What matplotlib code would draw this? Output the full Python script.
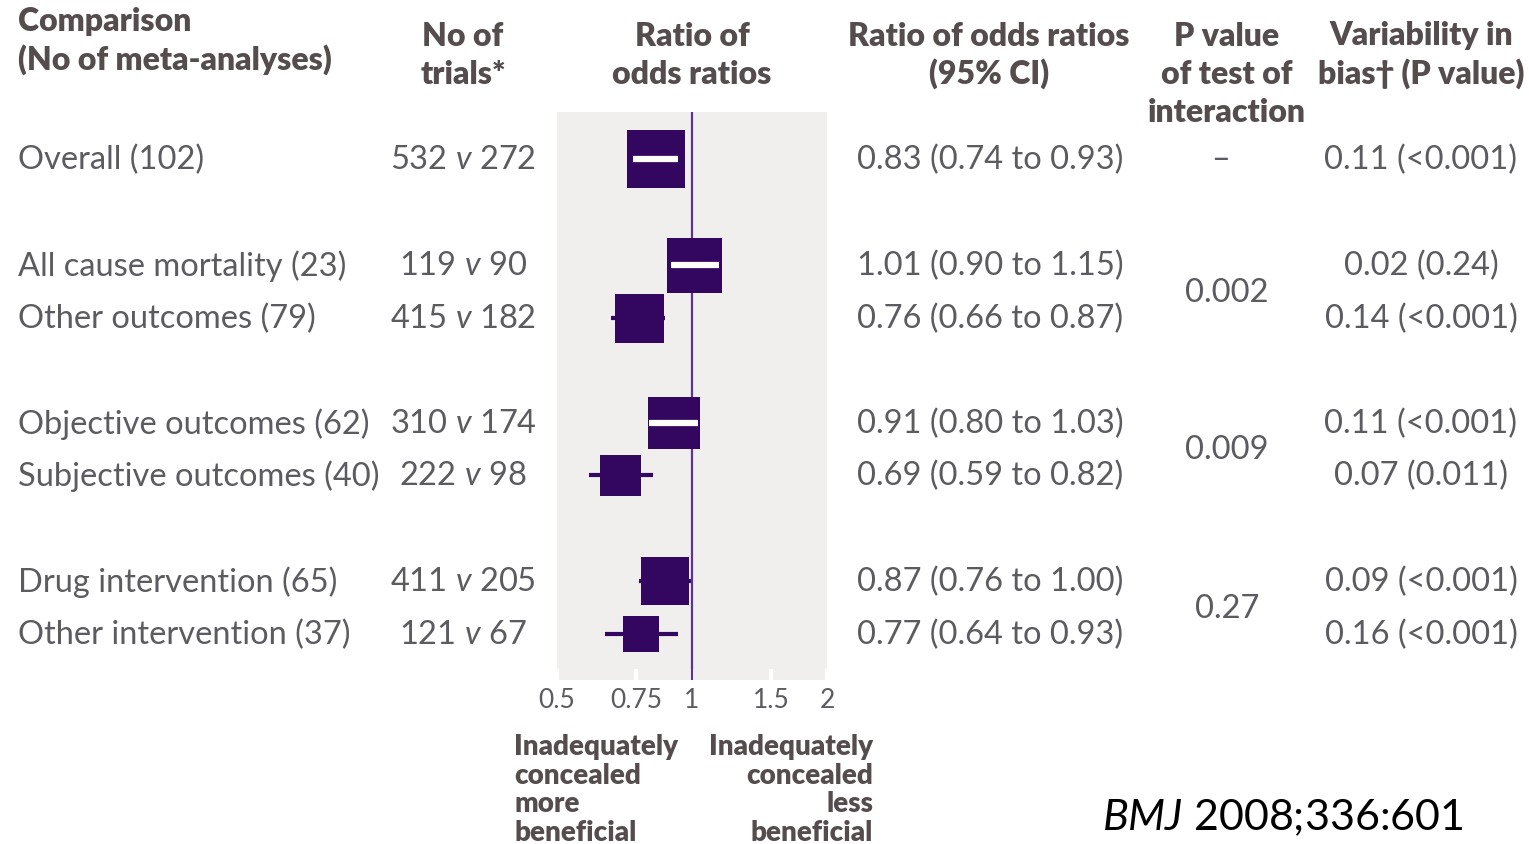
import numpy as np
import matplotlib
matplotlib.use("Agg")
import matplotlib.pyplot as plt

# ---------------- data ----------------
labels = ["Overall (102)", "All cause mortality (23)", "Other outcomes (79)",
          "Objective outcomes (62)", "Subjective outcomes (40)",
          "Drug intervention (65)", "Other intervention (37)"]
trials_adequate_not = [532, 119, 415, 310, 222, 411, 121]
trials_adequate = [272, 90, 182, 174, 98, 205, 67]
ror = [0.83, 1.01, 0.76, 0.91, 0.69, 0.87, 0.77]
ci_lo = [0.74, 0.90, 0.66, 0.80, 0.59, 0.76, 0.64]
ci_hi = [0.93, 1.15, 0.87, 1.03, 0.82, 1.00, 0.93]
box_weight = [58, 55, 49, 53, 41, 48, 36]   # box side (relative weight)
variability = ["0.11 (<0.001)", "0.02 (0.24)", "0.14 (<0.001)", "0.11 (<0.001)",
               "0.07 (0.011)", "0.09 (<0.001)", "0.16 (<0.001)"]
p_interaction = ["–", "0.002", "0.009", "0.27"]
xticks = [0.5, 0.75, 1, 1.5, 2]
xtick_labels = ["0.5", "0.75", "1", "1.5", "2"]

# ---------------- layout / style ----------------
W, H = 1529, 844
row_y = [160, 266, 319, 424, 476, 582, 635]
p_y = [160, 293, 450, 609]
p_x = [1220, 1227, 1227, 1227]

BODY = "Lato"
BOX_C = "#33075f"
LINE_C = "#5a3592"
BG_C = "#f0efee"
TXT_C = "#5b5b60"
HDR_C = "#554d4d"

plt.rcParams["mathtext.fontset"] = "custom"
plt.rcParams["mathtext.rm"] = BODY
plt.rcParams["mathtext.it"] = BODY + ":italic"

fig = plt.figure(figsize=(W / 100, H / 100), dpi=100)
fig.patch.set_facecolor("white")

# overlay axes in pixel coordinates for text
tx = fig.add_axes([0, 0, 1, 1], zorder=5)
tx.set_xlim(0, W)
tx.set_ylim(H, 0)
tx.axis("off")
tx.patch.set_alpha(0)

# forest axes
x0, x1, y0, y1 = 557, 827, 112, 680
ax = fig.add_axes([x0 / W, 1 - y1 / H, (x1 - x0) / W, (y1 - y0) / H])
ax.set_xscale("log")
ax.set_xlim(0.5, 2.0)
ax.set_ylim(y1, y0)
ax.set_facecolor(BG_C)
for s in ax.spines.values():
    s.set_visible(False)
ax.set_yticks([])
ax.set_xticks(xticks)
ax.set_xticklabels(xtick_labels)
ax.minorticks_off()
ax.tick_params(axis="x", direction="in", length=8, width=3, color="white",
               labelsize=19, labelcolor=TXT_C, pad=6)
for t in ax.get_xticklabels():
    t.set_fontfamily(BODY)

ax.axvline(1.0, color=LINE_C, lw=1.6, zorder=3)

fig.canvas.draw()
trans = ax.transData
for i in range(len(ror)):
    y = row_y[i] - 1
    ax.plot([ci_lo[i], ci_hi[i]], [y, y], color=BOX_C, lw=3, zorder=2,
            solid_capstyle="butt")
    s = box_weight[i]
    ax.plot([ror[i]], [y], marker="s", markersize=s * 0.72, color=BOX_C,
            markeredgewidth=0, zorder=4)
    # white CI inside the box when CI fits in box
    cx = trans.transform((ror[i], y))[0]
    lx = trans.transform((ci_lo[i], y))[0]
    hx = trans.transform((ci_hi[i], y))[0]
    left, right = cx - s / 2, cx + s / 2
    if lx >= left - 1 and hx <= right + 1:
        a = max(lx, left + 2)
        b = min(hx, right - 2)
        inv = trans.inverted()
        xa = inv.transform((a, 0))[0]
        xb = inv.transform((b, 0))[0]
        ax.plot([xa, xb], [y, y], color="white", lw=4.5, zorder=5,
                solid_capstyle="butt")

# headers
hdr = dict(fontfamily=BODY, fontweight="heavy", fontsize=23, color=HDR_C)
tx.text(18, 22, "Comparison", ha="left", va="center", **hdr)
tx.text(18, 60, "(No of meta-analyses)", ha="left", va="center", **hdr)
tx.text(463, 36, "No of", ha="center", va="center", **hdr)
tx.text(463, 74, "trials*", ha="center", va="center", **hdr)
tx.text(692, 36, "Ratio of", ha="center", va="center", **hdr)
tx.text(692, 74, "odds ratios", ha="center", va="center", **hdr)
tx.text(989, 36, "Ratio of odds ratios", ha="center", va="center", **hdr)
tx.text(989, 74, "(95% CI)", ha="center", va="center", **hdr)
tx.text(1227, 36, "P value", ha="center", va="center", **hdr)
tx.text(1227, 74, "of test of", ha="center", va="center", **hdr)
tx.text(1227, 112, "interaction", ha="center", va="center", **hdr)
tx.text(1421, 36, "Variability in", ha="center", va="center", **hdr)
tx.text(1421, 74, "bias† (P value)", ha="center", va="center", **hdr)

body = dict(fontfamily=BODY, fontsize=23.5, color=TXT_C)
for i in range(len(labels)):
    y = row_y[i]
    tx.text(18, y, labels[i], ha="left", va="center", **body)
    tx.text(463, y, f"{trials_adequate_not[i]} $v$ {trials_adequate[i]}",
            ha="center", va="center", **body)
    tx.text(990, y, f"{ror[i]:.2f} ({ci_lo[i]:.2f} to {ci_hi[i]:.2f})",
            ha="center", va="center", **body)
    tx.text(1421, y, variability[i], ha="center", va="center", **body)

for j in range(len(p_interaction)):
    tx.text(p_x[j], p_y[j], p_interaction[j], ha="center", va="center", **body)

foot = dict(fontfamily=BODY, fontweight="heavy", fontsize=20, color=HDR_C,
            linespacing=1.12)
tx.text(514, 734, "Inadequately\nconcealed\nmore\nbeneficial", ha="left",
        va="top", **foot)
tx.text(873, 734, "Inadequately\nconcealed\nless\nbeneficial", ha="right",
        va="top", multialignment="right", **foot)

tx.text(1102, 818, "$BMJ$ 2008;336:601", ha="left", va="center",
        fontfamily=BODY, fontsize=31, color="black")

fig.savefig("out.png", dpi=100, facecolor="white")
